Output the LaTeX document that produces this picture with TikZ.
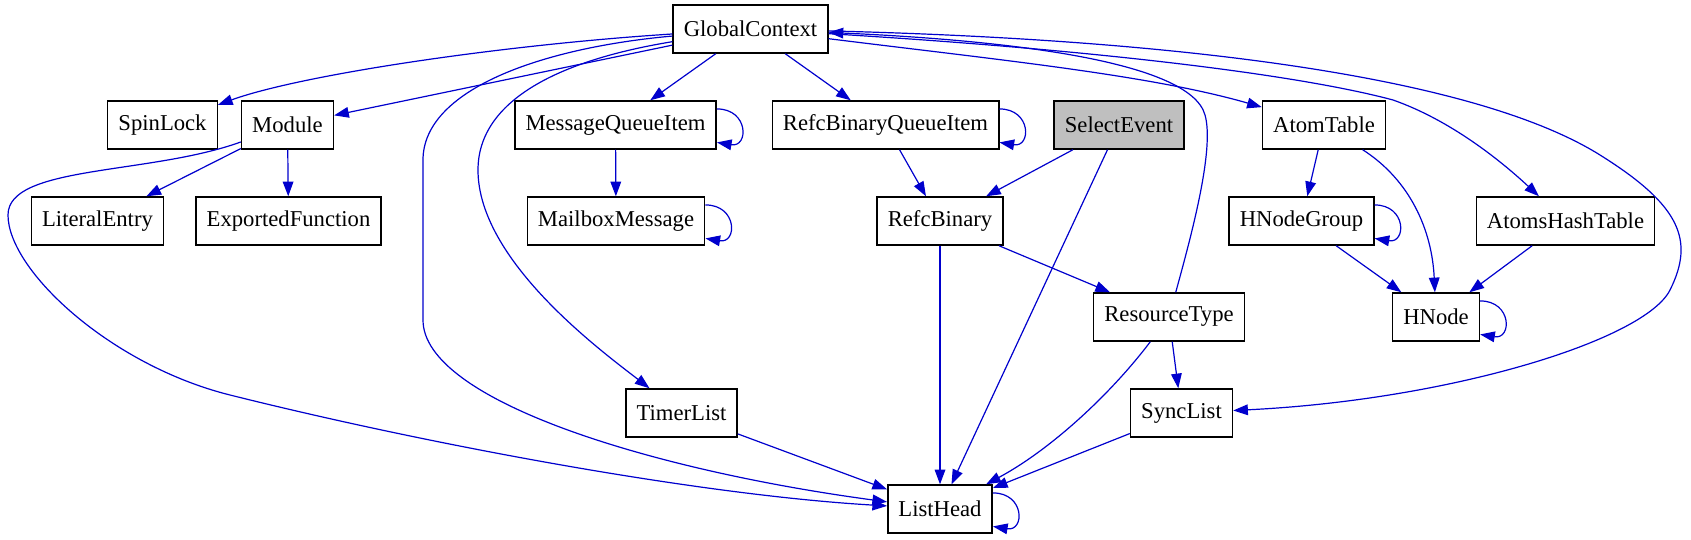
\documentclass[tikz,border=0pt]{standalone}
\usepackage{fontspec}
\setmainfont{Liberation Serif}
\usetikzlibrary{arrows.meta}
\definecolor{edgeblue}{RGB}{0,0,205}
\definecolor{selgray}{RGB}{191,191,191}

\begin{document}
\begin{tikzpicture}[x=0.75pt, y=-0.75pt,
    box/.style={draw, line width=1.1pt, fill=white, rectangle, minimum height=36pt, inner xsep=8pt, font=\fontsize{17}{20}\selectfont},
    edge/.style={edgeblue, line width=0.9pt, -{Triangle[length=11pt,width=8pt]}}]
    \useasboundingbox (0,0) rectangle (1691,539);

    % Nodes
    \node[box] (gc) at (750.5,29) {GlobalContext};
    \node[box] (spin) at (162.5,125) {SpinLock};
    \node[box] (module) at (287.5,125) {Module};
    \node[box] (mqi) at (615.5,125) {MessageQueueItem};
    \node[box] (rbqi) at (885.5,125) {RefcBinaryQueueItem};
    \node[box, fill=selgray] (sel) at (1119,125) {SelectEvent};
    \node[box] (atom) at (1324,125) {AtomTable};
    \node[box] (lit) at (97.5,221) {LiteralEntry};
    \node[box] (expf) at (288.5,221) {ExportedFunction};
    \node[box] (mbox) at (616,221) {MailboxMessage};
    \node[box] (rb) at (940,221) {RefcBinary};
    \node[box] (hng) at (1301.5,221) {HNodeGroup};
    \node[box] (aht) at (1565.5,221) {AtomsHashTable};
    \node[box] (rt) at (1169,317) {ResourceType};
    \node[box] (hnode) at (1436,317) {HNode};
    \node[box] (timer) at (681.5,413) {TimerList};
    \node[box] (sync) at (1181.5,413) {SyncList};
    \node[box] (lh) at (940,509) {ListHead};

    % Straight edges
    \foreach \a/\b in {gc/module, gc/mqi, gc/rbqi, module/lit, module/expf, mqi/mbox,
        rbqi/rb, sel/rb, sel/lh, atom/hng, hng/hnode, aht/hnode, rb/lh, rb/rt,
        rt/sync, sync/lh, timer/lh}
        \draw[edge] (\a) -- (\b);

    % Self loops
    \foreach \n in {mqi, mbox, rbqi, hng, hnode, lh}
        \draw[edge] ([yshift=-6.5pt]\n.north east) .. controls +(24pt,0pt) and +(24pt,-4pt) .. ([yshift=5.5pt]\n.south east);

    % Curved edges
    \draw[edge] (gc) .. controls (500,45) and (300,75) .. (spin);
    \draw[edge] (gc) .. controls (540,48) and (423,90) .. (423,160) -- (423,320)
        .. controls (423,400) and (650,470) .. (lh);
    \draw[edge] (gc) .. controls (560,60) and (478,100) .. (478,170)
        .. controls (478,260) and (600,350) .. (timer);
    \draw[edge] (module) .. controls (150,175) and (8,165) .. (8,215)
        .. controls (8,270) and (110,365) .. (230,395)
        .. controls (430,445) and (700,495) .. (lh);
    \draw[edge] (gc) .. controls (1000,60) and (1150,75) .. (atom);
    \draw[edge] (gc) .. controls (1100,50) and (1300,75) .. (1393,100)
        .. controls (1450,120) and (1500,160) .. (aht);
    \draw[edge] (gc) .. controls (1200,40) and (1480,80) .. (1600,155)
        .. controls (1680,205) and (1695,240) .. (1670,290)
        .. controls (1645,340) and (1450,400) .. (sync);
    \draw[edge] (rt) .. controls (1190,240) and (1215,150) .. (1205,115)
        .. controls (1190,60) and (1000,40) .. (gc);
    \draw[edge] (atom) .. controls (1410,180) and (1432,230) .. (hnode);
    \draw[edge] (rt) .. controls (1110,395) and (1050,450) .. (lh);
\end{tikzpicture}
\end{document}
